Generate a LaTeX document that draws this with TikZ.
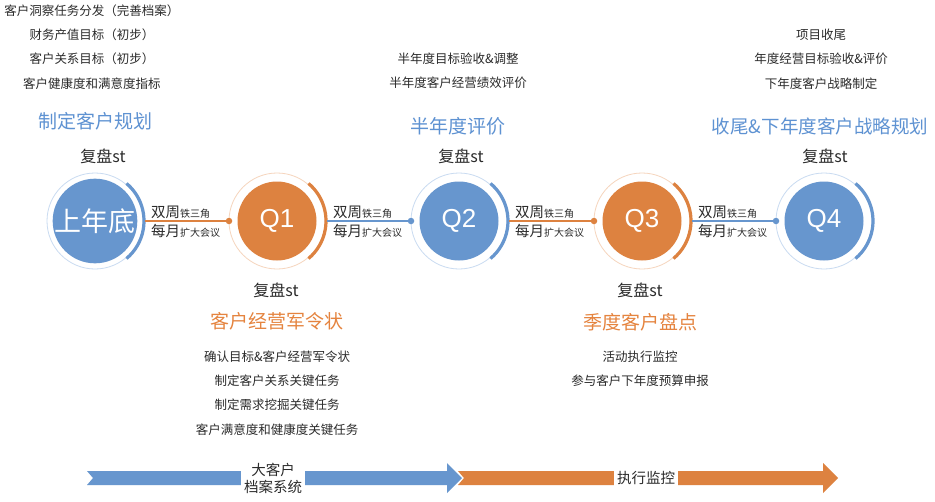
\documentclass[tikz,border=0pt]{standalone}
\usepackage{fontspec}
\setmainfont{Noto Sans CJK SC}
\newfontfamily\qfont{Liberation Sans}
\usetikzlibrary{calc}
\definecolor{qblue}{HTML}{6796CE}
\definecolor{qorange}{HTML}{DD8240}
\definecolor{ringblue}{HTML}{C9DBF1}
\definecolor{ringorange}{HTML}{F6D5BD}
\definecolor{titleblue}{HTML}{5E92D2}
\definecolor{titleorange}{HTML}{E5843F}
\definecolor{txt}{HTML}{2B2B2B}
\tikzset{
  qcircle/.style={circle, minimum size=79pt, inner sep=0pt, text=white, font=\qfont\fontsize{26}{28}\selectfont},
  listtxt/.style={align=center, text=txt, inner sep=0pt, font=\fontsize{12.5}{24.3}\selectfont},
  titletxt/.style={inner sep=0pt, font=\fontsize{19}{22}\selectfont},
  fupan/.style={inner sep=0pt, text=txt, font=\fontsize{16}{18}\selectfont},
  conntxt/.style={anchor=west, inner sep=0pt, text=txt, font=\fontsize{14.5}{16}\selectfont},
  ring/.style={line width=0.8pt},
  thickarc/.style={line width=3.2pt},
  connline/.style={line width=1.4pt},
  dot/.style={circle, inner sep=0pt, minimum size=6.5pt},
  arrtxt/.style={fill=white, align=center, text=txt, inner sep=3pt, font=\fontsize{14.5}{17}\selectfont}
}
\newcommand{\conntext}{双周{\fontsize{10}{12}\selectfont 铁三角}}
\newcommand{\conntextb}{每月{\fontsize{10}{12}\selectfont 扩大会议}}
\begin{document}
\begin{tikzpicture}[x=1pt,y=-1pt]
\useasboundingbox[fill=white] (0,0) rectangle (935,501);

% circles
\node[qcircle, fill=qblue, font=\fontsize{27}{30}\selectfont] (c0) at (95,221) {上年底};
\node[qcircle, fill=qorange] (c1) at (277,221) {Q1};
\node[qcircle, fill=qblue] (c2) at (459,221) {Q2};
\node[qcircle, fill=qorange] (c3) at (642,221) {Q3};
\node[qcircle, fill=qblue] (c4) at (824,221) {Q4};

% rings
\draw[ring, ringblue] (c0.center) circle (48pt);
\draw[ring, ringorange] (c1.center) circle (48pt);
\draw[ring, ringblue] (c2.center) circle (48pt);
\draw[ring, ringorange] (c3.center) circle (48pt);
\draw[ring, ringblue] (c4.center) circle (48pt);

% thick arcs
\draw[thickarc, qblue] ($(c0.center)+(50:49pt)$) arc (50:-50:49pt);
\draw[thickarc, qorange] ($(c1.center)+(50:49pt)$) arc (50:-50:49pt);
\draw[thickarc, qblue] ($(c2.center)+(50:49pt)$) arc (50:-50:49pt);
\draw[thickarc, qorange] ($(c3.center)+(50:49pt)$) arc (50:-50:49pt);
\draw[thickarc, qblue] ($(c4.center)+(50:49pt)$) arc (50:-50:49pt);

% arc ends and dots
\coordinate (a0) at ($(c0.center)+(0:50pt)$);
\coordinate (a1) at ($(c1.center)+(0:50pt)$);
\coordinate (a2) at ($(c2.center)+(0:50pt)$);
\coordinate (a3) at ($(c3.center)+(0:50pt)$);
\node[dot, fill=qorange] (d1) at ($(c1.center)+(180:48pt)$) {};
\node[dot, fill=qblue] (d2) at ($(c2.center)+(180:48pt)$) {};
\node[dot, fill=qorange] (d3) at ($(c3.center)+(180:48pt)$) {};
\node[dot, fill=qblue] (d4) at ($(c4.center)+(180:48pt)$) {};

\draw[connline, qorange] (a0) -- (d1);
\draw[connline, qblue] (a1) -- (d2);
\draw[connline, qorange] (a2) -- (d3);
\draw[connline, qblue] (a3) -- (d4);

% connector texts
\foreach \a/\n in {a0/k0,a1/k1,a2/k2,a3/k3}{
  \node[conntxt] (\n t) at ($(\a)+(6pt,8.5pt)$) {\conntext};
  \node[conntxt] (\n b) at ($(\a)+(6pt,-10pt)$) {\conntextb};
}

% 复盘st
\node[fupan] (f0) at (103,156) {复盘st};
\node[fupan] (f2) at (461,156) {复盘st};
\node[fupan] (f4) at (825,156) {复盘st};
\node[fupan] (f1) at (276,290) {复盘st};
\node[fupan] (f3) at (640,290) {复盘st};

% titles
\node[titletxt, text=titleblue] (t0) at (95,121) {制定客户规划};
\node[titletxt, text=titleblue] (t2) at (458,126) {半年度评价};
\node[titletxt, text=titleblue, font=\fontsize{18.5}{22}\selectfont] (t4) at (820,126) {收尾\&下年度客户战略规划};
\node[titletxt, text=titleorange] (t1) at (277,321) {客户经营军令状};
\node[titletxt, text=titleorange] (t3) at (640,322) {季度客户盘点};

% lists
\node[listtxt] (l0) at (92,47) {客户洞察任务分发（完善档案）\\财务产值目标（初步）\\客户关系目标（初步）\\客户健康度和满意度指标};
\node[listtxt] (l2) at (458,71) {半年度目标验收\&调整\\半年度客户经营绩效评价};
\node[listtxt] (l4) at (821,59) {项目收尾\\年度经营目标验收\&评价\\下年度客户战略制定};
\node[listtxt] (l1) at (277,393) {确认目标\&客户经营军令状\\制定客户关系关键任务\\制定需求挖掘关键任务\\客户满意度和健康度关键任务};
\node[listtxt] (l3) at (640,369) {活动执行监控\\参与客户下年度预算申报};

% bottom arrows
\fill[qblue] (87,471) -- (447,471) -- (447,463) -- (462,478) -- (447,493) -- (447,485) -- (87,485) -- (93,478) -- cycle;
\fill[qorange] (458,471) -- (823,471) -- (823,463) -- (838,478) -- (823,493) -- (823,485) -- (458,485) -- (464,478) -- cycle;
\node[arrtxt] (s1) at (273,478) {大客户\\档案系统};
\node[arrtxt] (s2) at (646,478) {执行监控};
\end{tikzpicture}
\end{document}
